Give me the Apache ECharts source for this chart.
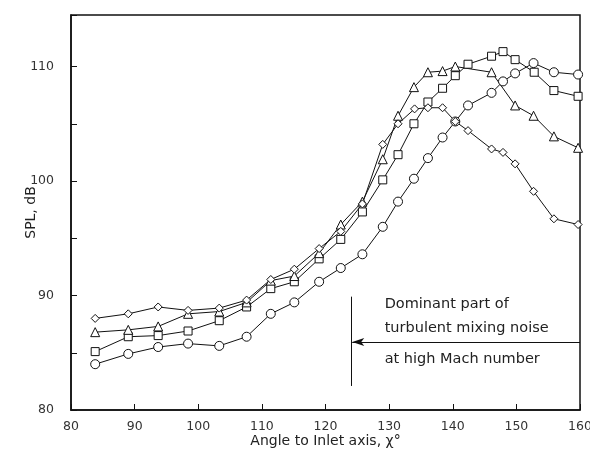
<!DOCTYPE html>
<html>
<head>
<meta charset="utf-8">
<script src="https://cdn.jsdelivr.net/npm/echarts@6/dist/echarts.min.js"></script>
<style>
html,body{margin:0;padding:0;background:#fff;}
#chart{width:590px;height:457px;}
</style>
</head>
<body>
<div id="chart"></div>
<script>
// Data
var angleCircle = [83.8,89.0,93.7,98.4,103.3,107.6,111.4,115.1,119.0,122.4,125.8,129.0,131.4,133.9,136.1,138.4,140.4,142.4,146.1,147.9,149.8,152.7,155.9,159.7];
var splCircle   = [84.0,84.9,85.5,85.8,85.6,86.4,88.4,89.4,91.2,92.4,93.6,96.0,98.2,100.2,102.0,103.8,105.2,106.6,107.7,108.7,109.4,110.3,109.5,109.3];

var angleSquare = [83.8,89.0,93.7,98.4,103.3,107.6,111.4,115.1,119.0,122.4,125.8,129.0,131.4,133.9,136.1,138.4,140.4,142.4,146.1,147.9,149.8,152.8,155.9,159.7];
var splSquare   = [85.1,86.4,86.5,86.9,87.8,89.0,90.6,91.2,93.2,94.9,97.3,100.1,102.3,105.0,106.9,108.1,109.2,110.2,110.9,111.3,110.6,109.5,107.9,107.4];

var angleTriangle = [83.8,89.0,93.7,98.4,103.3,107.6,111.4,115.1,119.0,122.4,125.8,129.0,131.4,133.9,136.1,138.4,140.4,146.1,149.8,152.7,155.9,159.7];
var splTriangle   = [86.8,87.0,87.3,88.4,88.6,89.4,91.3,91.7,93.7,96.2,98.2,101.9,105.7,108.2,109.5,109.6,110.0,109.5,106.6,105.7,103.9,102.9];

var angleDiamond = [83.8,89.0,93.7,98.4,103.3,107.6,111.4,115.1,119.0,122.4,125.8,129.0,131.4,134.0,136.1,138.4,140.4,142.4,146.1,147.9,149.8,152.7,155.9,159.7];
var splDiamond   = [88.0,88.4,89.0,88.7,88.9,89.6,91.4,92.3,94.1,95.6,98.0,103.2,105.0,106.3,106.4,106.4,105.2,104.4,102.8,102.5,101.5,99.1,96.7,96.2];

var xTickLabels = [80,90,100,110,120,130,140,150,160];
var yTickLabels = [80,90,100,110];
var annotationLines = ['Dominant part of','turbulent mixing noise','at high Mach number'];

function pairs(xs, ys){ return xs.map(function(x,i){ return [x, ys[i]]; }); }

var FONT = '"DejaVu Sans", "Liberation Sans", sans-serif';
var chart = echarts.init(document.getElementById('chart'), null, {renderer:'canvas'});

function mkSeries(name, xs, ys, symbol, size){
  return {
    name: name, type: 'line', data: pairs(xs, ys),
    symbol: symbol, symbolSize: size, showAllSymbol: true,
    lineStyle: {color:'#111', width:1},
    itemStyle: {color:'#fff', borderColor:'#111', borderWidth:1},
    emphasis: {disabled:true}, animation:false, z: 3
  };
}

var option = {
  backgroundColor: '#fff',
  animation: false,
  grid: {left:71, right:10, top:15, bottom:47, show:true, borderColor:'#111', borderWidth:1.5,
         backgroundColor:'transparent', outerBoundsMode:'none', containLabel:false},
  xAxis: {
    type:'value', min:80, max:160, interval:10,
    name:'Angle to Inlet axis, \u03c7\u00b0', nameLocation:'middle', nameGap:24, nameMoveOverlap:false,
    nameTextStyle:{fontFamily:FONT, fontSize:14, color:'#222'},
    axisLine:{show:true, lineStyle:{color:'#111', width:1.5}},
    axisTick:{show:true, inside:true, length:6, lineStyle:{color:'#111'}},
    axisLabel:{fontFamily:FONT, fontSize:12.5, color:'#333', margin:10,
      formatter:function(v){ return xTickLabels.indexOf(v) >= 0 ? String(v) : ''; }},
    splitLine:{show:false}
  },
  yAxis: {
    type:'value', min:80, max:114.5, interval:5,
    name:'SPL, dB', nameLocation:'middle', nameGap:33, nameRotate:90, nameMoveOverlap:false,
    nameTextStyle:{fontFamily:FONT, fontSize:14, color:'#222'},
    axisLine:{show:true, lineStyle:{color:'#111', width:1.5}},
    axisTick:{show:true, inside:true, length:6, lineStyle:{color:'#111'}},
    axisLabel:{fontFamily:FONT, fontSize:12.5, color:'#333', margin:17,
      formatter:function(v){ return yTickLabels.indexOf(v) >= 0 ? String(v) : ''; }},
    splitLine:{show:false}
  },
  series: [
    mkSeries('circle', angleCircle, splCircle, 'circle', 9),
    mkSeries('square', angleSquare, splSquare, 'rect', 8),
    mkSeries('triangle', angleTriangle, splTriangle, 'triangle', 9),
    mkSeries('diamond', angleDiamond, splDiamond, 'diamond', 8),
    {
      type:'line', data:[], silent:true,
      markLine:{
        silent:true, animation:false, symbol:['none','none'], label:{show:false},
        lineStyle:{color:'#111', width:1, type:'solid'},
        data:[
          [{coord:[124.0, 89.9], symbol:'none'}, {coord:[124.0, 82.1], symbol:'none'}],
          [{coord:[160, 85.95], symbol:'none'}, {coord:[124.2, 85.95], symbol:'arrow', symbolSize:[6,12]}]
        ]
      }
    }
  ]
};
chart.setOption(option);

// annotation text placed in data coordinates
var textPos = [[129.3, 89.4],[129.3, 87.3],[129.3, 84.6]];
var graphics = annotationLines.map(function(t, i){
  var p = chart.convertToPixel({gridIndex:0}, textPos[i]);
  return {type:'text', left:p[0], top:p[1]-6, silent:true,
    style:{text:t, font:'14.5px ' + FONT, fill:'#222'}};
});
chart.setOption({graphic: graphics});
</script>
</body>
</html>
